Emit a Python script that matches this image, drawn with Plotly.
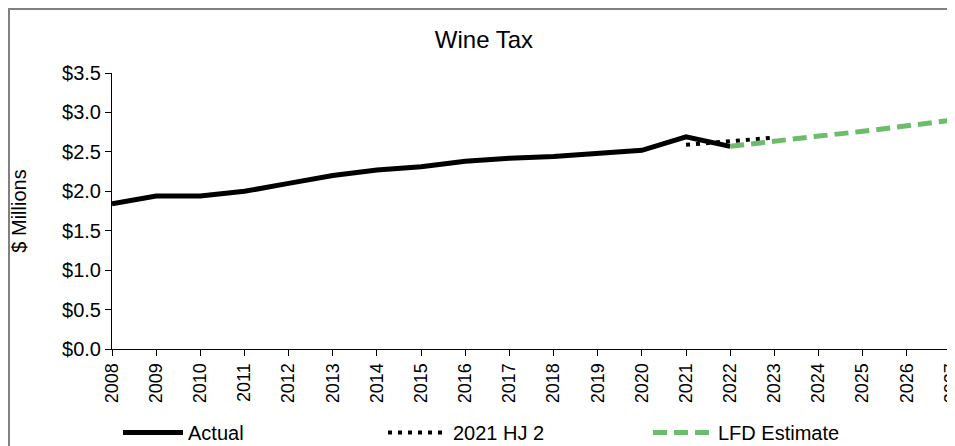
import plotly.graph_objects as go

years_actual = list(range(2008, 2023))
actual = [1.84, 1.94, 1.94, 2.00, 2.10, 2.20, 2.27, 2.31, 2.38, 2.42, 2.44, 2.48, 2.52, 2.69, 2.57]

years_hj2 = [2021, 2022, 2023]
hj2 = [2.59, 2.63, 2.68]

years_lfd = [2022, 2023, 2024, 2025, 2026, 2027]
lfd = [2.57, 2.64, 2.70, 2.76, 2.83, 2.90]

year_ticks = list(range(2008, 2028))
y_ticks = [0, 0.5, 1.0, 1.5, 2.0, 2.5, 3.0, 3.5]

FONT = "Liberation Sans, Arial, sans-serif"

fig = go.Figure()
fig.add_trace(go.Scatter(x=years_actual, y=actual, mode="lines", name="Actual",
                         line=dict(color="black", width=5)))
fig.add_trace(go.Scatter(x=years_hj2, y=hj2, mode="lines", name="2021 HJ 2",
                         line=dict(color="black", width=4, dash="4px,6px")))
fig.add_trace(go.Scatter(x=years_lfd, y=lfd, mode="lines", name="LFD Estimate",
                         line=dict(color="#6BBD6B", width=5, dash="14px,7px")))

# page offset of 8px (body margin); all screen coords converted below
OFF = 8
W, H = 955 - OFF, 446 - OFF
L, R, T, B = 112 - OFF, 4, 73 - OFF, 446 - 349
pw, ph = W - L - R, H - T - B

def px(x):  # screen x -> paper
    return (x - OFF - L) / pw

def py(y):  # screen y -> paper
    return (H - B - (y - OFF)) / ph

fig.update_layout(
    width=W, height=H,
    margin=dict(l=L, r=R, t=T, b=B, autoexpand=False),
    paper_bgcolor="white", plot_bgcolor="white",
    font=dict(family=FONT, size=18, color="black"),
    title=dict(text="Wine Tax", x=(484 - OFF) / W, xanchor="center",
               y=1 - (40 - OFF) / H, yanchor="middle",
               font=dict(size=24, family=FONT, color="black")),
    xaxis=dict(range=[2008, 2027.0005], tickmode="array", tickvals=year_ticks,
               ticktext=[str(y) for y in year_ticks], tickangle=-90,
               automargin=False, ticklabeloverflow="allow",
               showgrid=False, zeroline=False, showline=True, linecolor="black",
               linewidth=1, ticks="outside", ticklen=6, tickcolor="black",
               tickfont=dict(size=18, family=FONT)),
    yaxis=dict(range=[0, 3.5], tickmode="array", tickvals=y_ticks,
               ticktext=["$%.1f" % v for v in y_ticks],
               automargin=False,
               showgrid=False, zeroline=False, showline=True, linecolor="black",
               linewidth=1, ticks="outside", ticklen=6, tickcolor="black",
               tickfont=dict(size=20, family=FONT),
               title=dict(text="$ Millions", standoff=32,
                          font=dict(size=20, family=FONT))),
    legend=dict(orientation="h", x=px(118), xanchor="left", y=py(413), yanchor="top",
                entrywidth=190, entrywidthmode="pixels", itemwidth=60,
                font=dict(size=20, family=FONT), bgcolor="rgba(0,0,0,0)"),
    showlegend=True,
    shapes=[
        dict(type="rect", xref="paper", yref="paper",
             x0=px(9), x1=px(970), y0=py(470), y1=py(9),
             line=dict(color="#808080", width=2), fillcolor="rgba(0,0,0,0)",
             layer="below"),
    ],
)

fig.write_html("out.html")
